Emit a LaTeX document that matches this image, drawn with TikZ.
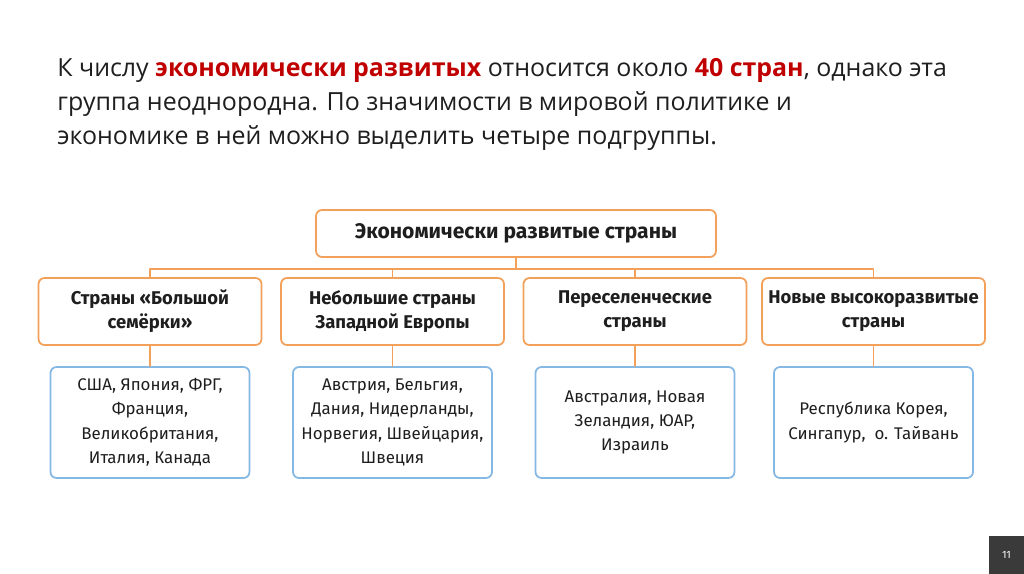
\documentclass[tikz,border=0pt]{standalone}
\usepackage{fontspec}
\usepackage{tikz}
\usetikzlibrary{positioning,calc}
\setmainfont{Open Sans}
\newfontfamily\boxfont{Fira Sans}
\definecolor{boxorange}{HTML}{F2A05A}
\definecolor{boxblue}{HTML}{86B8E4}
\definecolor{accent}{HTML}{C00000}
\definecolor{ink}{HTML}{1E1E1E}
\definecolor{pagegrey}{HTML}{3A3A3A}
\tikzset{
    every picture/.style={line cap=round,line join=round},
    leadline/.style={anchor=base west,inner sep=0pt,text=ink,
      font=\fontsize{14.2}{19}\selectfont},
    groupbox/.style={draw=boxorange,fill=white,line width=1pt,rounded corners=1.2mm,
      minimum width=4.46cm,minimum height=1.34cm,inner sep=2pt,
      font=\boxfont\bfseries\fontsize{10.5}{13.6}\selectfont,align=center,text=ink},
    rootbox/.style={groupbox,minimum width=8cm,minimum height=0.94cm,
      font=\boxfont\bfseries\fontsize{12}{13.6}\selectfont},
    listbox/.style={draw=boxblue,fill=white,line width=1pt,rounded corners=1.2mm,
      minimum width=3.98cm,minimum height=2.22cm,inner sep=2pt,
      font=\boxfont\fontsize{9.6}{13.9}\selectfont,align=center,text=ink},
    link/.style={draw=boxorange,line width=0.8pt}
}
\newcommand{\hl}[1]{\textcolor{accent}{\textbf{#1}}}

\begin{document}
\begin{tikzpicture}[x=0.02cm,y=-0.02cm]
    \useasboundingbox (0,0) rectangle (1024,574);

    % heading
    \node[leadline] (line1) at (57,77) {К числу \hl{экономически развитых} относится около \hl{40 стран}, однако эта};
    \node[leadline] (line2) at (57,111) {группа неоднородна. По значимости в мировой политике и};
    \node[leadline] (line3) at (57,145) {экономике в ней можно выделить четыре подгруппы.};

    % scheme
    \node[rootbox] (root) at (516,233.5) {Экономически развитые страны};

    \node[groupbox] (big) at (150,311.5) {Страны «Большой\\семёрки»};
    \node[groupbox] (small) at (392.5,311.5) {Небольшие страны\\Западной Европы};
    \node[groupbox] (settler) at (635,311.5) {Переселенческие\\страны};
    \node[groupbox] (new) at (873.5,311.5) {Новые высокоразвитые\\страны};

    \node[listbox] (bigl) at (150,422.5) {США, Япония, ФРГ,\\Франция,\\Великобритания,\\Италия, Канада};
    \node[listbox] (smalll) at (392.5,422.5) {Австрия, Бельгия,\\Дания, Нидерланды,\\Норвегия, Швейцария,\\Швеция};
    \node[listbox] (settlerl) at (635,422.5) {Австралия, Новая\\Зеландия, ЮАР,\\Израиль};
    \node[listbox] (newl) at (873.5,422.5) {Республика Корея,\\Сингапур,~ о. Тайвань};

    \foreach \g in {big,small,settler,new}{
        \draw[link] (root.south) -- ++(0,11) -| (\g.north);
        \draw[link] (\g.south) -- (\g l.north);
    }

    % page number
    \fill[pagegrey] (989,536) rectangle (1024,574);
    \node[text=white,font=\boxfont\fontsize{6}{7}\selectfont] (page) at (1006.5,555) {11};
\end{tikzpicture}
\end{document}
